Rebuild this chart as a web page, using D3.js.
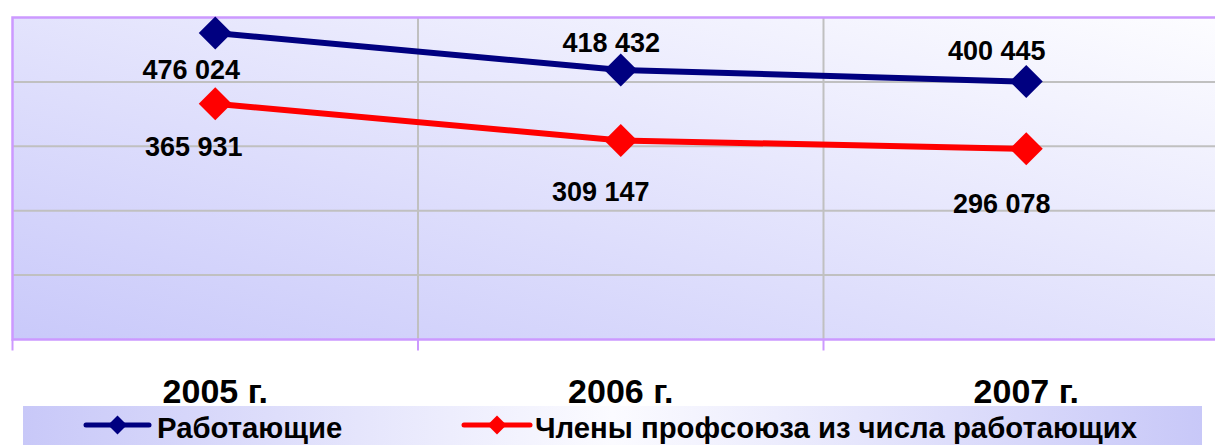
<!DOCTYPE html>
<html><head><meta charset="utf-8">
<script src="https://cdn.jsdelivr.net/npm/d3@7"></script>
<style>html,body{margin:0;padding:0;background:#fff;overflow:hidden}svg{display:block}</style>
</head><body>
<script>
const categories = ["2005 г.", "2006 г.", "2007 г."];
const seriesNames = ["Работающие", "Члены профсоюза из числа работающих"];
const workers = [476024, 418432, 400445];
const unionMembers = [365931, 309147, 296078];
const yTicks = [0, 100000, 200000, 300000, 400000, 500000];

const W = 1215, H = 445;
const svg = d3.select("body").append("svg").attr("width", W).attr("height", H);
const defs = svg.append("defs");
const bg = defs.append("linearGradient").attr("id","bg").attr("x1","0").attr("y1","1").attr("x2","1").attr("y2","0");
bg.append("stop").attr("offset","0").attr("stop-color","#c9c9fa");
bg.append("stop").attr("offset","1").attr("stop-color","#fdfdff");
const lg = defs.append("linearGradient").attr("id","lg").attr("x1","0").attr("y1","0").attr("x2","1").attr("y2","0");
lg.append("stop").attr("offset","0").attr("stop-color","#c8c8f8");
lg.append("stop").attr("offset","0.5").attr("stop-color","#fbfbff");
lg.append("stop").attr("offset","1").attr("stop-color","#c8c8f8");

const pLeft = 12.5, pTop = 17.5, pBottom = 339.5, band = 405.5;
const x = d3.scaleBand().domain(categories).range([pLeft, pLeft + band * categories.length]).paddingInner(0).paddingOuter(0);
const y = d3.scaleLinear().domain([0, 500000]).range([pBottom, pTop]);
const pRight = pLeft + band * categories.length;

// plot background
svg.append("rect").attr("x", pLeft).attr("y", pTop).attr("width", pRight - pLeft).attr("height", pBottom - pTop).attr("fill", "url(#bg)");

// horizontal gridlines
svg.append("g").selectAll("line").data(yTicks.slice(1, -1)).join("line")
  .attr("x1", pLeft).attr("x2", pRight).attr("y1", d => y(d)).attr("y2", d => y(d))
  .attr("stroke", "#c0c0c0").attr("stroke-width", 2);
// vertical gridlines at category boundaries
svg.append("g").selectAll("line").data(categories.slice(1)).join("line")
  .attr("x1", d => x(d)).attr("x2", d => x(d)).attr("y1", pTop).attr("y2", pBottom)
  .attr("stroke", "#c0c0c0").attr("stroke-width", 2);

// border (top, left, bottom)
const border = "#cc99ff";
svg.append("path").attr("d", `M${pRight},${pTop}H${pLeft}V${pBottom}H${pRight}`)
  .attr("fill","none").attr("stroke", border).attr("stroke-width", 2.5);
// category ticks below axis
svg.append("g").selectAll("line").data(categories).join("line")
  .attr("x1", d => x(d)).attr("x2", d => x(d)).attr("y1", pBottom).attr("y2", pBottom + 11)
  .attr("stroke", border).attr("stroke-width", 2);

// category labels
svg.append("g").selectAll("text").data(categories).join("text")
  .attr("x", d => x(d) + x.bandwidth() / 2).attr("y", 403)
  .attr("text-anchor", "middle").attr("font-family", "Liberation Sans, Arial, sans-serif")
  .attr("font-weight", "bold").attr("font-size", 34).attr("fill", "#000").text(d => d);

const fmt = v => d3.format(",")(v).replace(/,/g, " ");
const diamond = (cx, cy, r) => `M${cx},${cy - r}L${cx + r},${cy}L${cx},${cy + r}L${cx - r},${cy}Z`;

const series = [
  { name: seriesNames[0], values: workers, color: "#000080",
    labelOffsets: [[-24, 46], [-9.5, -18], [-29.5, -21.5]] },
  { name: seriesNames[1], values: unionMembers, color: "#ff0000",
    labelOffsets: [[-21.5, 52], [-20, 61], [-24.5, 64]] }
];

const line = d3.line().x((d, i) => x(categories[i]) + x.bandwidth() / 2).y(d => y(d));
series.forEach(s => {
  const g = svg.append("g");
  g.append("path").attr("d", line(s.values)).attr("fill", "none").attr("stroke", s.color).attr("stroke-width", 6).attr("stroke-linejoin","round");
  g.selectAll("path.m").data(s.values).join("path").attr("class","m")
    .attr("d", (d, i) => diamond(x(categories[i]) + x.bandwidth() / 2, y(d), 16.5)).attr("fill", s.color);
  g.selectAll("text").data(s.values).join("text")
    .attr("x", (d, i) => x(categories[i]) + x.bandwidth() / 2 + s.labelOffsets[i][0])
    .attr("y", (d, i) => y(d) + s.labelOffsets[i][1])
    .attr("text-anchor", "middle").attr("font-family", "Liberation Sans, Arial, sans-serif")
    .attr("font-weight", "bold").attr("font-size", 27).attr("fill", "#000").text(d => fmt(d));
});

// legend
const legend = svg.append("g");
legend.append("rect").attr("x", 23).attr("y", 406).attr("width", 1179).attr("height", 45).attr("fill", "url(#lg)");
const legendItems = [
  { s: series[0], x0: 86, x1: 149, tx: 157 },
  { s: series[1], x0: 464, x1: 530, tx: 535 }
];
legendItems.forEach(it => {
  const ly = 425;
  legend.append("line").attr("x1", it.x0).attr("x2", it.x1).attr("y1", ly).attr("y2", ly)
    .attr("stroke", it.s.color).attr("stroke-width", 5).attr("stroke-linecap", "round");
  legend.append("path").attr("d", diamond((it.x0 + it.x1) / 2, ly, 9.5)).attr("fill", it.s.color);
  legend.append("text").attr("x", it.tx).attr("y", 438)
    .attr("font-family", "Liberation Sans, Arial, sans-serif").attr("font-weight", "bold")
    .attr("font-size", 29.3).attr("fill", "#000").text(it.s.name);
});
</script>
</body></html>
